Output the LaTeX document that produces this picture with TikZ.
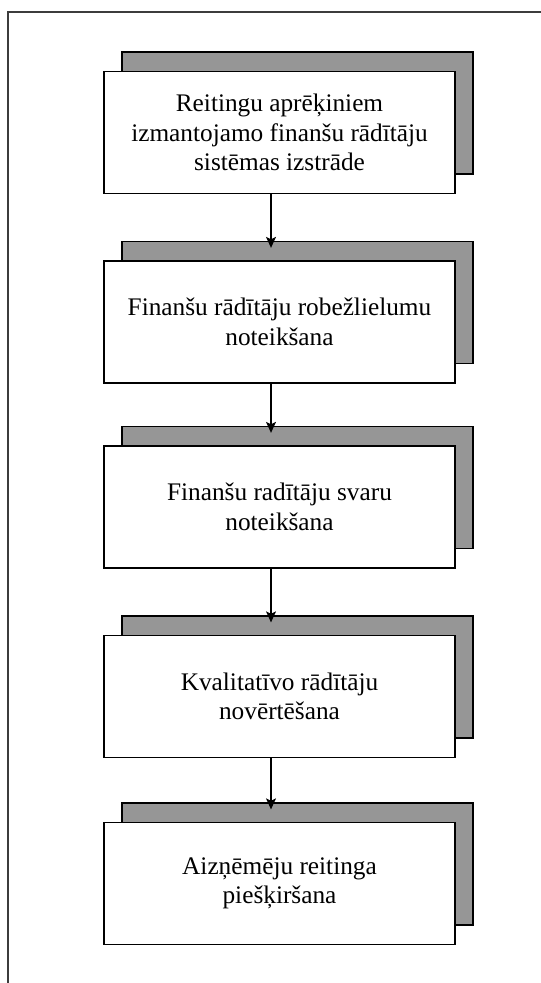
\documentclass[tikz,border=0pt]{standalone}
\usepackage{fontspec}
\setmainfont{Liberation Serif}
\usetikzlibrary{shadows,arrows.meta}
\definecolor{shadowgray}{RGB}{150,150,150}
\definecolor{framegray}{RGB}{60,60,60}
\tikzset{
  stagebox/.style={draw=black, line width=1.3pt, fill=white,
    minimum width=351pt, minimum height=122pt, inner sep=0pt,
    align=center, font=\fontsize{25.3}{29.5}\selectfont,
    copy shadow={shadow xshift=18pt, shadow yshift=19.5pt,
      fill=shadowgray, draw=black, line width=1.3pt}},
  flow/.style={line width=1.2pt, -{Stealth[length=11pt,width=10pt,inset=2.5pt]}},
  frameline/.style={draw=framegray, line width=2pt}
}
\begin{document}
\begin{tikzpicture}[x=1pt,y=-1pt]
\useasboundingbox (0,0) rectangle (541,983);
% open frame: top and left edges only
\draw[frameline] (541,12) -- (8,12) -- (8,983);

\node[stagebox] (s1) at (279.5,132.5) {Reitingu aprēķiniem\\izmantojamo finanšu rādītāju\\sistēmas izstrāde};
\node[stagebox] (s2) at (279.5,322) {Finanšu rādītāju robežlielumu\\noteikšana};
\node[stagebox] (s3) at (279.5,507) {Finanšu radītāju svaru\\noteikšana};
\node[stagebox] (s4) at (279.5,696.5) {Kvalitatīvo rādītāju\\novērtēšana};
\node[stagebox] (s5) at (279.5,883.5) {Aizņēmēju reitinga\\piešķiršana};

\foreach \a/\b in {s1/s2, s2/s3, s3/s4, s4/s5}
  \draw[flow] ([xshift=-8.5pt]\a.south) -- ([xshift=-8.5pt,yshift=12.5pt]\b.north);
\end{tikzpicture}
\end{document}
